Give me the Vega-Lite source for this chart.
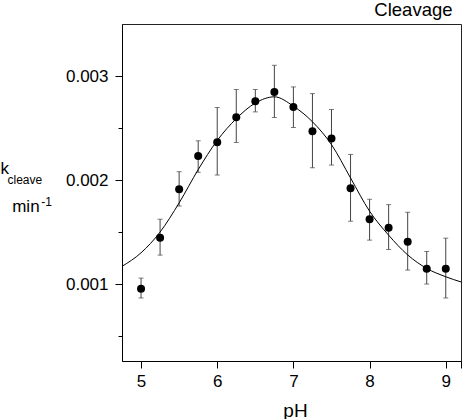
{
  "$schema": "https://vega.github.io/schema/vega-lite/v6.json",
  "width": 339,
  "height": 337,
  "autosize": {"type": "none"},
  "padding": {"left": 122, "top": 24, "right": 4, "bottom": 58},
  "background": "white",
  "datasets": {
    "pts": [
      {"pH": 5.0, "k": 0.000955, "lo": 0.000866, "hi": 0.001057},
      {"pH": 5.25, "k": 0.001444, "lo": 0.001278, "hi": 0.001623},
      {"pH": 5.5, "k": 0.001911, "lo": 0.00175, "hi": 0.00208},
      {"pH": 5.75, "k": 0.00223, "lo": 0.002074, "hi": 0.002377},
      {"pH": 6.0, "k": 0.002364, "lo": 0.002048, "hi": 0.002697},
      {"pH": 6.25, "k": 0.002604, "lo": 0.002361, "hi": 0.00287},
      {"pH": 6.5, "k": 0.002757, "lo": 0.002655, "hi": 0.00287},
      {"pH": 6.75, "k": 0.002847, "lo": 0.002601, "hi": 0.003103},
      {"pH": 7.0, "k": 0.002703, "lo": 0.002505, "hi": 0.002895},
      {"pH": 7.25, "k": 0.00247, "lo": 0.002118, "hi": 0.002831},
      {"pH": 7.5, "k": 0.0024, "lo": 0.002144, "hi": 0.002678},
      {"pH": 7.75, "k": 0.00192, "lo": 0.001604, "hi": 0.002246},
      {"pH": 8.0, "k": 0.001623, "lo": 0.001422, "hi": 0.001815},
      {"pH": 8.25, "k": 0.00154, "lo": 0.001332, "hi": 0.001763},
      {"pH": 8.5, "k": 0.001406, "lo": 0.001134, "hi": 0.00169},
      {"pH": 8.75, "k": 0.001147, "lo": 0.001, "hi": 0.001313},
      {"pH": 9.0, "k": 0.001147, "lo": 0.000866, "hi": 0.001441}
    ],
    "curve": [
      {"pH": 4.75, "k": 0.00117},
      {"pH": 5.0, "k": 0.0013},
      {"pH": 5.25, "k": 0.0015},
      {"pH": 5.5, "k": 0.00178},
      {"pH": 5.75, "k": 0.0021},
      {"pH": 6.0, "k": 0.00238},
      {"pH": 6.25, "k": 0.00259},
      {"pH": 6.5, "k": 0.00274},
      {"pH": 6.75, "k": 0.0028},
      {"pH": 7.0, "k": 0.00271},
      {"pH": 7.25, "k": 0.00256},
      {"pH": 7.5, "k": 0.00234},
      {"pH": 7.75, "k": 0.00202},
      {"pH": 8.0, "k": 0.0017},
      {"pH": 8.25, "k": 0.00147},
      {"pH": 8.5, "k": 0.00128},
      {"pH": 8.75, "k": 0.00115},
      {"pH": 9.0, "k": 0.00107},
      {"pH": 9.2, "k": 0.00102}
    ]
  },
  "layer": [
    {
      "data": {"name": "pts"},
      "mark": {"type": "rule", "color": "#444", "strokeWidth": 1},
      "encoding": {
        "x": {"field": "pH", "type": "quantitative", "scale": {"domain": [4.75, 9.2], "nice": false, "zero": false},
          "axis": {"orient": "bottom", "values": [5, 6, 7, 8, 9, 9.2], "labelExpr": "datum.value > 9.1 ? '' : format(datum.value, 'd')", "labelOverlap": false, "labelFlush": false, "tickSize": 7, "labelFontSize": 17, "labelPadding": 5, "title": "pH", "titleFontSize": 19, "titleX": 173, "titleY": 55, "titleBaseline": "alphabetic"}},
        "y": {"field": "lo", "type": "quantitative", "scale": {"domain": [0.00026, 0.0035], "nice": false, "zero": false},
          "axis": {"orient": "left", "values": [0.001, 0.002, 0.003], "format": ".3f", "labelOverlap": false, "tickSize": 7, "labelFontSize": 17, "labelPadding": 7, "title": "k", "titleAngle": 0, "titleAlign": "left", "titleBaseline": "alphabetic", "titleX": -122, "titleY": 149, "titleFontSize": 17}},
        "y2": {"field": "hi"}
      }
    },
    {
      "data": {"name": "pts"},
      "mark": {"type": "tick", "orient": "horizontal", "color": "#444", "size": 5, "thickness": 1},
      "encoding": {
        "x": {"field": "pH", "type": "quantitative",
          "axis": {"orient": "bottom", "values": [], "labels": false, "ticks": false, "domain": false, "title": "Cleavage", "titleFontSize": 18.5, "titleAlign": "right", "titleBaseline": "alphabetic", "titleX": 330, "titleY": -345.5}},
        "y": {"field": "hi", "type": "quantitative",
          "axis": {"orient": "left", "values": [0.0005, 0.0015, 0.0025], "labels": false, "domain": false, "tickSize": 4, "title": "cleave", "titleAngle": 0, "titleAlign": "left", "titleBaseline": "alphabetic", "titleX": -115, "titleY": 159, "titleFontSize": 12}}
      }
    },
    {
      "data": {"name": "pts"},
      "mark": {"type": "tick", "orient": "horizontal", "color": "#444", "size": 5, "thickness": 1},
      "encoding": {
        "x": {"field": "pH", "type": "quantitative", "axis": null},
        "y": {"field": "lo", "type": "quantitative",
          "axis": {"orient": "left", "values": [], "labels": false, "ticks": false, "domain": false, "title": "min", "titleAngle": 0, "titleAlign": "left", "titleBaseline": "alphabetic", "titleX": -110.3, "titleY": 187.7, "titleFontSize": 17}}
      }
    },
    {
      "data": {"name": "curve"},
      "mark": {"type": "line", "color": "#000", "strokeWidth": 1, "interpolate": "monotone", "clip": true},
      "encoding": {
        "x": {"field": "pH", "type": "quantitative", "axis": null},
        "y": {"field": "k", "type": "quantitative",
          "axis": {"orient": "left", "values": [], "labels": false, "ticks": false, "domain": false, "title": "-1", "titleAngle": 0, "titleAlign": "left", "titleBaseline": "alphabetic", "titleX": -81.3, "titleY": 181, "titleFontSize": 12}}
      }
    },
    {
      "data": {"name": "pts"},
      "mark": {"type": "circle", "color": "#000", "opacity": 1, "size": 64},
      "encoding": {
        "x": {"field": "pH", "type": "quantitative", "axis": null},
        "y": {"field": "k", "type": "quantitative", "axis": null}
      }
    }
  ],
  "resolve": {"scale": {"x": "shared", "y": "shared"}, "axis": {"x": "independent", "y": "independent"}},
  "config": {
    "font": "Liberation Sans",
    "view": {"stroke": "#222", "strokeWidth": 1},
    "axis": {"grid": false, "domainColor": "#000", "tickColor": "#000", "labelColor": "#000", "titleColor": "#000", "titleFontWeight": "normal", "labelFont": "Liberation Sans", "titleFont": "Liberation Sans", "titlePadding": 0}
  }
}
